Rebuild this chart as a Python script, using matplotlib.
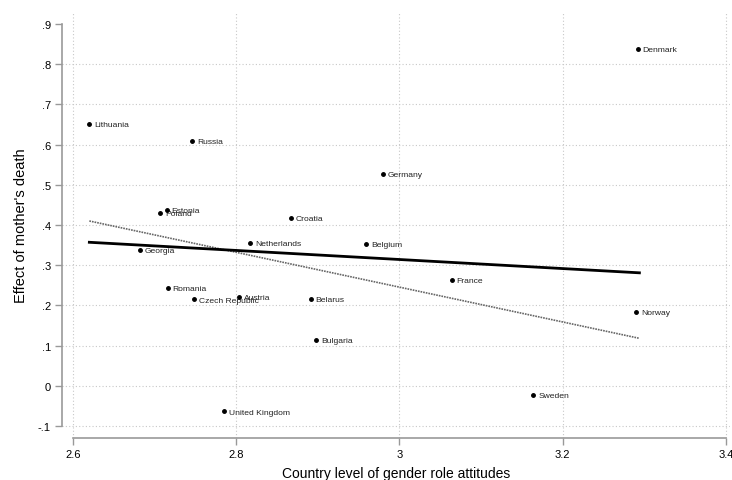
import matplotlib.pyplot as plt

plt.rcParams['font.family'] = ['Liberation Sans', 'DejaVu Sans']

# Country values
countries = ['Denmark', 'Lithuania', 'Russia', 'Germany', 'Estonia', 'Poland',
             'Croatia', 'Netherlands', 'Belgium', 'Georgia', 'Romania',
             'Czech Republic', 'Austria', 'Belarus', 'Bulgaria',
             'United Kingdom', 'France', 'Norway', 'Sweden']
attitudes = [3.292, 2.620, 2.746, 2.980, 2.715, 2.707,
             2.867, 2.817, 2.959, 2.682, 2.716,
             2.748, 2.803, 2.891, 2.898,
             2.785, 3.064, 3.290, 3.164]
effect = [0.838, 0.651, 0.610, 0.527, 0.437, 0.431,
          0.417, 0.355, 0.352, 0.338, 0.243,
          0.215, 0.221, 0.216, 0.114,
          -0.064, 0.263, 0.183, -0.022]

# fitted lines (end points)
fit_x = [2.620, 3.294]
fit_solid = [0.357, 0.281]
fit_dotted = [0.410, 0.118]

xticks = [2.6, 2.8, 3.0, 3.2, 3.4]
xtick_labels = ['2.6', '2.8', '3', '3.2', '3.4']
yticks = [-0.1, 0, 0.1, 0.2, 0.3, 0.4, 0.5, 0.6, 0.7, 0.8, 0.9]
ytick_labels = ['-.1', '0', '.1', '.2', '.3', '.4', '.5', '.6', '.7', '.8', '.9']

fig = plt.figure(figsize=(7.32, 4.81), dpi=100)
ax = fig.add_axes([62 / 732, 1 - 439 / 481, 668 / 732, 426 / 481])

# grid
grid_style = dict(color='#c8c8c8', linestyle=(0, (1, 2)), linewidth=0.8, zorder=0)
for xv in xticks:
    ax.axvline(xv, **grid_style)
for yv in yticks[:-1]:
    ax.axhline(yv, **grid_style)

ax.plot(fit_x, fit_dotted, color='#666666', linestyle=(0, (1, 0.6)), linewidth=1.2, zorder=2)
ax.plot(fit_x, fit_solid, color='black', linewidth=2, zorder=3)

ax.plot(attitudes, effect, 'o', color='black', markersize=2.5, zorder=4)
for name, xv, yv in zip(countries, attitudes, effect):
    ax.annotate(name, (xv, yv), textcoords='offset points', xytext=(3.5, -0.5),
                ha='left', va='center', fontsize=6.1, color='#222222')

ax.set_xlim(2.5865, 3.405)
ax.set_ylim(-0.13, 0.93)
ax.set_xticks(xticks)
ax.set_xticklabels(xtick_labels)
ax.set_yticks(yticks)
ax.set_yticklabels(ytick_labels)

for side in ['top', 'right']:
    ax.spines[side].set_visible(False)
ax.spines['left'].set_bounds(-0.1, 0.9)
ax.spines['bottom'].set_bounds(2.6, 3.4)
for side in ['left', 'bottom']:
    ax.spines[side].set_color('#999999')
    ax.spines[side].set_linewidth(1.2)
ax.tick_params(axis='both', direction='out', length=5, width=1, color='#999999',
               labelsize=8, pad=3)

ax.set_xlabel('Country level of gender role attitudes', fontsize=10, labelpad=5)
ax.set_ylabel("Effect of mother's death", fontsize=10.5, labelpad=7)

fig.savefig('out.png', dpi=100)
